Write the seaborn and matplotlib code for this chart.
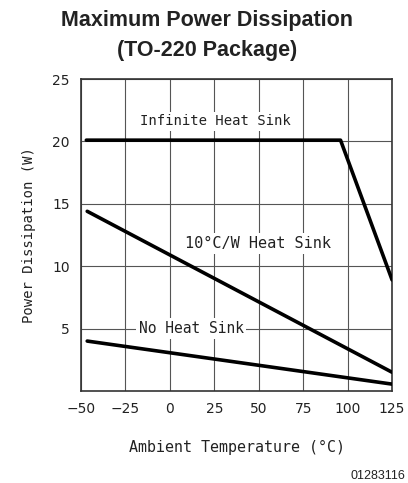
import matplotlib
matplotlib.use("Agg")
import matplotlib.pyplot as plt
import seaborn as sns
import pandas as pd

# Data
inf_temp = [-47, 96, 125]
inf_power = [20.1, 20.1, 8.9]
hs10_temp = [-46.5, 125]
hs10_power = [14.4, 1.5]
nohs_temp = [-46.5, 125]
nohs_power = [4.0, 0.55]
x_ticks = [-50, -25, 0, 25, 50, 75, 100, 125]
y_ticks = [5, 10, 15, 20, 25]
series_labels = ["Infinite Heat Sink", "10°C/W Heat Sink", "No Heat Sink"]

df = pd.concat([
    pd.DataFrame({"temp": inf_temp, "power": inf_power, "series": series_labels[0]}),
    pd.DataFrame({"temp": hs10_temp, "power": hs10_power, "series": series_labels[1]}),
    pd.DataFrame({"temp": nohs_temp, "power": nohs_power, "series": series_labels[2]}),
])

sns.set_theme(style="white")
plt.rcParams["font.family"] = ["DejaVu Sans"]

fig = plt.figure(figsize=(4.08, 4.83), dpi=100)
ax = fig.add_axes([0.1985, 0.1905, 0.7625, 0.6459])

sns.lineplot(data=df, x="temp", y="power", hue="series", units="series",
             estimator=None, sort=False,
             palette=["black", "black", "black"], linewidth=2.6,
             legend=False, ax=ax, zorder=3)

ax.set_xlim(-50, 125)
ax.set_ylim(0, 25)
ax.set_xticks(x_ticks)
ax.set_yticks(y_ticks)
ax.grid(True, color="#555555", linewidth=0.8)
ax.set_axisbelow(True)
for s in ax.spines.values():
    s.set_color("#333333")
    s.set_linewidth(1.2)
ax.tick_params(axis="both", length=0, labelsize=10, colors="#222222", pad=8)

mono = "DejaVu Sans Mono"
ax.set_xlabel("Ambient Temperature (°C)", fontsize=10.8, family=mono, color="#222222", labelpad=17)
ax.set_ylabel("Power Dissipation (W)", fontsize=10, family=mono, color="#222222", labelpad=12)

bbox = dict(facecolor="white", edgecolor="none", pad=2)
ax.text(25.6, 21.6, series_labels[0], ha="center", va="center", fontsize=10, family=mono, color="#222222", bbox=bbox, zorder=2)
ax.text(49.3, 11.8, series_labels[1], ha="center", va="center", fontsize=11, family=mono, color="#222222", bbox=bbox, zorder=2)
ax.text(12, 5.0, series_labels[2], ha="center", va="center", fontsize=10.5, family=mono, color="#222222", bbox=bbox, zorder=2)

fig.text(0.508, 0.958, "Maximum Power Dissipation", ha="center", va="center",
         fontsize=15.5, fontweight="bold", family="Liberation Sans", color="#222222")
fig.text(0.508, 0.896, "(TO-220 Package)", ha="center", va="center",
         fontsize=15.5, fontweight="bold", family="Liberation Sans", color="#222222")
fig.text(0.993, 0.015, "01283116", ha="right", va="center",
         fontsize=9, family="Liberation Sans", color="#222222")

fig.savefig("out.png", dpi=100)
